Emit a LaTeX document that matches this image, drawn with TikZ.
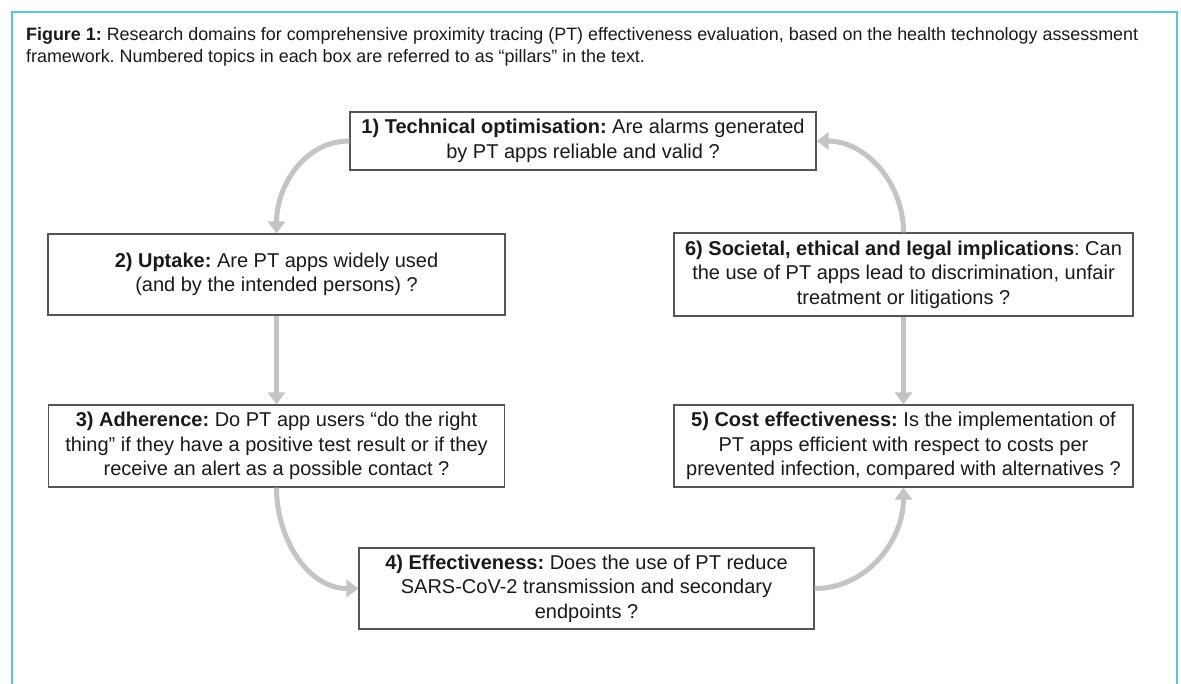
\documentclass[tikz,border=0pt]{standalone}
\usepackage{fontspec}
\setmainfont{Liberation Sans}
\usetikzlibrary{arrows.meta}
\definecolor{framecol}{HTML}{5BC5DC}
\definecolor{arrcol}{HTML}{C4C4C4}
\definecolor{boxcol}{HTML}{555555}
\definecolor{txtcol}{HTML}{1A1A1A}
\frenchspacing
\tikzset{
  pbox/.style={draw=boxcol, line width=1.2pt, align=center, inner sep=0pt, text=txtcol,
    font=\fontsize{20}{24.5}\selectfont},
  flow/.style={draw=arrcol, line width=5pt, -{Triangle[width=17pt,length=12pt]}},
  captxt/.style={anchor=base west, inner sep=0pt, text=txtcol, font=\fontsize{17.9}{22}\selectfont}
}
\begin{document}
\begin{tikzpicture}[x=1pt,y=-1pt]
\useasboundingbox (0,0) rectangle (1181,684);
\fill[white] (0,0) rectangle (1181,684);
\draw[framecol, line width=2pt] (12,684) -- (12,12) -- (1177,12) -- (1177,684);

\node[captxt] (cap1) at (26,41) {\textbf{Figure 1:} Research domains for comprehensive proximity tracing (PT) effectiveness evaluation, based on the health technology assessment};
\node[captxt] (cap2) at (26,63) {framework. Numbered topics in each box are referred to as “pillars” in the text.};

\node[pbox, minimum width=466pt, minimum height=58pt] (b1) at (583,141)
  {\textbf{1) Technical optimisation:} Are alarms generated\\by PT apps reliable and valid ?};
\node[pbox, minimum width=457pt, minimum height=81pt] (b2) at (276.5,274.5)
  {\textbf{2) Uptake:} Are PT apps widely used\\(and by the intended persons) ?};
\node[pbox, minimum width=456pt, minimum height=82pt] (b3) at (276.5,446)
  {\textbf{3) Adherence:} Do PT app users “do the right\\thing” if they have a positive test result or if they\\receive an alert as a possible contact ?};
\node[pbox, minimum width=455pt, minimum height=81pt] (b4) at (586.5,588.5)
  {\textbf{4) Effectiveness:} Does the use of PT reduce\\SARS-CoV-2 transmission and secondary\\endpoints ?};
\node[pbox, minimum width=459pt, minimum height=82pt] (b5) at (903.5,446)
  {\textbf{5) Cost effectiveness:} Is the implementation of\\PT apps efficient with respect to costs per\\prevented infection, compared with alternatives ?};
\node[pbox, minimum width=459pt, minimum height=83pt] (b6) at (903.5,274.5)
  {\textbf{6) Societal, ethical and legal implications}: Can\\the use of PT apps lead to discrimination, unfair\\treatment or litigations ?};

\draw[flow] (b1.west) to[out=180,in=90] (b2.north);
\draw[flow] (b2.south) -- (b3.north);
\draw[flow] (b3.south) to[out=-90,in=180] (b4.west);
\draw[flow] (b4.east) to[out=0,in=-90] (b5.south);
\draw[flow] (b6.south) -- (b5.north);
\draw[flow] (b6.north) to[out=90,in=0] (b1.east);
\end{tikzpicture}
\end{document}
